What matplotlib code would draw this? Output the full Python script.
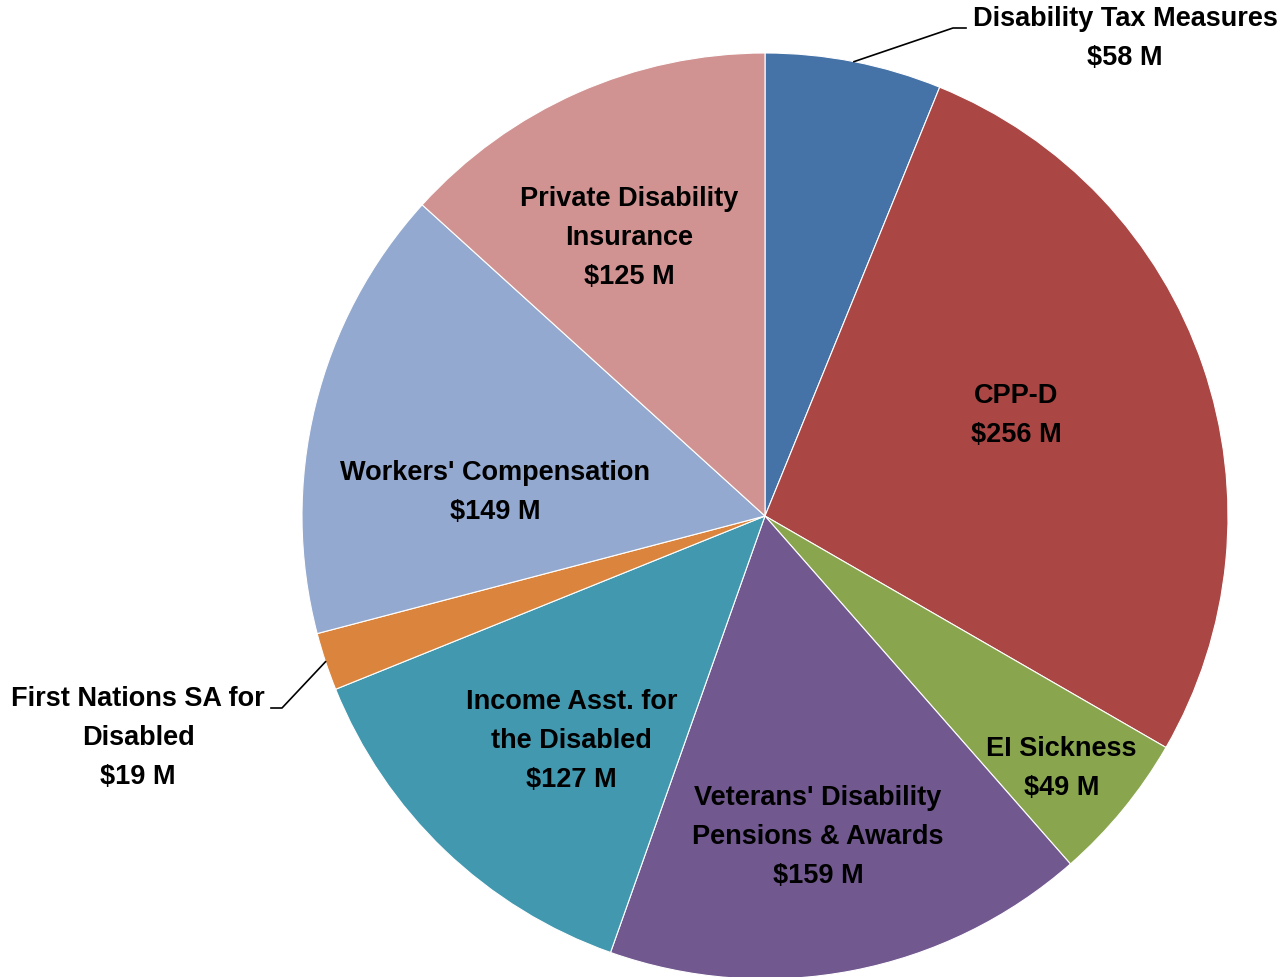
import numpy as np
import matplotlib.pyplot as plt

names = ['Disability Tax Measures', 'CPP-D', 'EI Sickness',
         "Veterans' Disability\nPensions & Awards", 'Income Asst. for\nthe Disabled',
         'First Nations SA for\nDisabled', "Workers' Compensation",
         'Private Disability\nInsurance']
values = [58, 256, 49, 159, 127, 19, 149, 125]
colors = ['#4572A7', '#AA4643', '#89A54E', '#71588F', '#4198AF',
          '#DB843D', '#93A9CF', '#D19392']

# label placement: radius (fraction of R) and angle shift in degrees
lab_r = [None, 0.585, 0.84, 0.70, 0.64, None, 0.585, 0.67]
lab_da = [0, 3, -1, -1.5, 3, 0, 8.5, 2]

fam = 'Liberation Sans'
fs = 19.5
ls = 1.65

W, H = 1285, 978
cx, cy, R = 765, 517, 463

def px(x, y):
    return (x - cx) / R, (cy - y) / R

def label(i):
    return (names[i] + '\n$' + str(values[i]) + ' M').replace('$', r'\$')

fig = plt.figure(figsize=(W / 100, H / 100), dpi=100)
ax = fig.add_axes([0, 0, 1, 1])

wedges, _ = ax.pie(values, colors=colors, startangle=90, counterclock=False,
                   radius=1, wedgeprops=dict(edgecolor='white', linewidth=0.8))
ax.set_xlim(-cx / R, (W - cx) / R)
ax.set_ylim(-(H - cy) / R, cy / R)
ax.set_aspect('equal')
ax.axis('off')

for i, w in enumerate(wedges):
    mid = np.deg2rad((w.theta1 + w.theta2) / 2)
    if lab_r[i] is not None:
        a = mid + np.deg2rad(lab_da[i])
        ax.text(lab_r[i] * np.cos(a), lab_r[i] * np.sin(a), label(i),
                ha='center', va='center', fontsize=fs, fontweight='bold',
                family=fam, linespacing=ls)

# outside labels with leader lines
for i, elbow, end, tpos in [(0, (953, 29), (966, 29), (1125, 39)),
                            (5, (282, 709), (271, 709), (138, 738))]:
    w = wedges[i]
    mid = np.deg2rad((w.theta1 + w.theta2) / 2)
    p1 = px(*elbow)
    p2 = px(*end)
    ax.plot([np.cos(mid), p1[0], p2[0]], [np.sin(mid), p1[1], p2[1]],
            color='black', lw=1.2)
    tx, ty = px(*tpos)
    ax.text(tx, ty, label(i), ha='center', va='center', fontsize=fs,
            fontweight='bold', family=fam, linespacing=ls)

plt.savefig('out.png', dpi=100)
